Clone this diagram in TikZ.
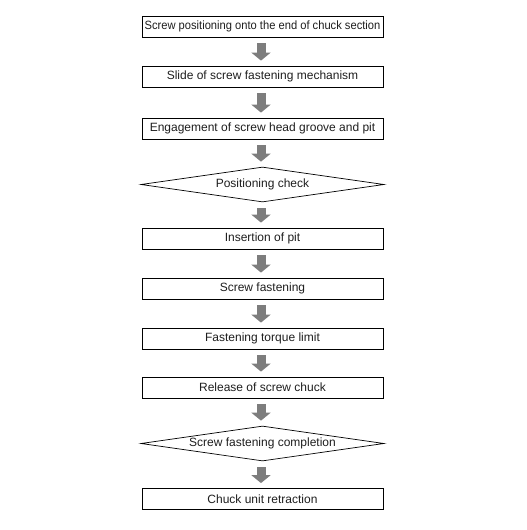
\documentclass[tikz,border=0pt]{standalone}
\usepackage{fontspec}
\setmainfont{Liberation Sans}
\usetikzlibrary{shapes.geometric,arrows.meta}
\definecolor{arrowgray}{RGB}{125,125,125}
\definecolor{textgray}{RGB}{30,30,30}
\tikzset{
  stepbox/.style={draw=black, line width=0.8pt, minimum width=241pt, minimum height=21pt, inner sep=0pt, font=\fontsize{12pt}{14pt}\selectfont, text=textgray},
  checkbox/.style={draw=black, line width=0.7pt, shape=diamond, aspect=7, minimum width=243pt, minimum height=35pt, inner sep=0pt, font=\fontsize{12pt}{14pt}\selectfont, text=textgray},
  flow/.style={draw=arrowgray, line width=9pt, shorten <=6pt, shorten >=5pt, -{Triangle[width=19pt,length=8pt]}, arrowgray}
}
\begin{document}
\begin{tikzpicture}[x=1pt,y=-1pt]
\useasboundingbox (0,0) rectangle (527,530);
\node[stepbox] (b1) at (262.5,26.5) {\scalebox{0.93}[1]{Screw positioning onto the end of chuck section}};
\node[stepbox] (b2) at (262.5,76.5) {Slide of screw fastening mechanism};
\node[stepbox] (b3) at (262.5,128.5) {Engagement of screw head groove and pit};
\node[checkbox] (d1) at (262.5,184.5) {Positioning check};
\node[stepbox] (b4) at (262.5,238.5) {Insertion of pit};
\node[stepbox] (b5) at (262.5,288.5) {Screw fastening};
\node[stepbox] (b6) at (262.5,338.5) {Fastening torque limit};
\node[stepbox] (b7) at (262.5,387.5) {Release of screw chuck};
\node[checkbox] (d2) at (262.5,443.5) {Screw fastening completion};
\node[stepbox] (b8) at (262.5,499) {Chuck unit retraction};
\foreach \a/\b in {b1/b2,b2/b3,b3/d1,d1/b4,b4/b5,b5/b6,b6/b7,b7/d2,d2/b8}{
  \draw[flow] ([xshift=-1.5pt]\a.south) -- ([xshift=-1.5pt]\b.north);
}
\end{tikzpicture}
\end{document}
